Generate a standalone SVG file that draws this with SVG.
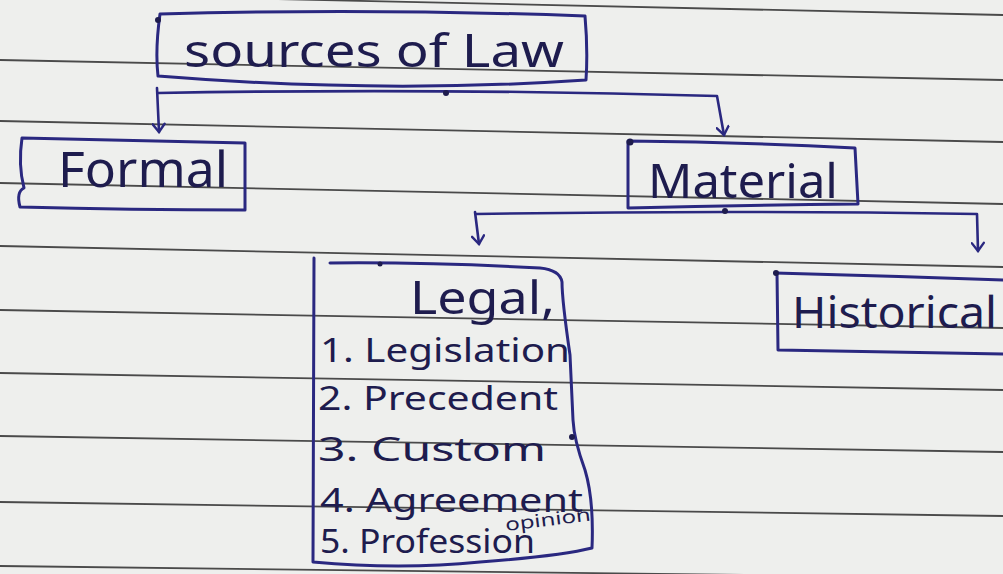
<svg xmlns="http://www.w3.org/2000/svg" width="1003" height="574" viewBox="0 0 1003 574">
<style>
.rule{stroke:#4a4a4a;stroke-width:1.8;fill:none}
.box{fill:none;stroke:#2a2880;stroke-width:3;stroke-linejoin:round;stroke-linecap:round}
.conn{fill:none;stroke:#2a2880;stroke-width:2.6;stroke-linecap:round;stroke-linejoin:round}
.ink{fill:#1e1c4e;font-family:"Noto Sans","DejaVu Sans",sans-serif}
.dot{fill:#1e1c4e}
</style>
<defs>
<marker id="arr" viewBox="-10 -7 12 14" refX="0" refY="0" markerUnits="userSpaceOnUse" markerWidth="12" markerHeight="14" orient="auto">
<path d="M-8,-6 L0,0 L-8,6" fill="none" stroke="#2a2880" stroke-width="2.4" stroke-linecap="round"/>
</marker>
</defs>
<rect width="1003" height="574" fill="#eeefed"/>
<g id="paper">
<line class="rule" x1="0" y1="-7" x2="1003" y2="15"/>
<line class="rule" x1="0" y1="60" x2="1003" y2="80"/>
<line class="rule" x1="0" y1="121" x2="1003" y2="142"/>
<line class="rule" x1="0" y1="183" x2="1003" y2="204"/>
<line class="rule" x1="0" y1="246" x2="1003" y2="267"/>
<line class="rule" x1="0" y1="310" x2="1003" y2="328"/>
<line class="rule" x1="0" y1="373" x2="1003" y2="390"/>
<line class="rule" x1="0" y1="436" x2="1003" y2="452"/>
<line class="rule" x1="0" y1="502" x2="1003" y2="516"/>
<line class="rule" x1="0" y1="566" x2="1003" y2="578"/>
</g>
<g id="connectors">
<path class="conn" d="M158,93 Q440,88 717,96 L724,135" marker-end="url(#arr)"/>
<path class="conn" d="M157,88 L159,132" marker-end="url(#arr)"/>
<path class="conn" d="M476,214 Q720,210 977,214 L978,251" marker-end="url(#arr)"/>
<path class="conn" d="M475,212 L479,244" marker-end="url(#arr)"/>
<circle class="dot" cx="446" cy="93" r="3"/>
<circle class="dot" cx="725" cy="211" r="3"/>
</g>
<g id="node-sources">
<path class="box" d="M160,14 Q370,8 585,16 Q588,50 586,80 Q380,94 158,76 Q155,50 160,14 Z"/>
<circle class="dot" cx="158" cy="20" r="3"/>
<text class="ink" x="184" y="67" font-size="46" textLength="380" lengthAdjust="spacingAndGlyphs">sources of Law</text>
</g>
<g id="node-formal">
<path class="box" d="M22,138 Q130,140 245,143 L245,210 Q130,210 20,207 Q16,192 24,188 Q18,165 22,138 Z"/>
<text class="ink" x="58" y="187" font-size="50" textLength="170" lengthAdjust="spacingAndGlyphs">Formal</text>
</g>
<g id="node-material">
<path class="box" d="M628,141 Q740,142 855,148 L858,204 Q740,205 628,208 L628,141 Z"/>
<circle class="dot" cx="630" cy="142" r="3.5"/>
<text class="ink" x="648" y="198" font-size="48" textLength="190" lengthAdjust="spacingAndGlyphs">Material</text>
</g>
<g id="node-legal">
<path class="box" d="M314,258 L313,562 Q400,570 480,562 Q560,556 592,548 Q594,500 585,470 Q574,440 573,420 L570,355 Q562,300 562,282 Q560,270 540,268 Q430,262 330,263"/>
<circle class="dot" cx="572" cy="437" r="3"/>
<circle class="dot" cx="380" cy="264" r="2.5"/>
<text class="ink" x="410" y="314" font-size="46" textLength="145" lengthAdjust="spacingAndGlyphs">Legal,</text>
<text class="ink" x="320" y="362" font-size="32" textLength="250" lengthAdjust="spacingAndGlyphs">1. Legislation</text>
<text class="ink" x="318" y="410" font-size="32" textLength="240" lengthAdjust="spacingAndGlyphs">2. Precedent</text>
<text class="ink" x="318" y="461" font-size="32" textLength="228" lengthAdjust="spacingAndGlyphs">3. Custom</text>
<text class="ink" x="320" y="512" font-size="32" textLength="263" lengthAdjust="spacingAndGlyphs">4. Agreement</text>
<text class="ink" x="320" y="553" font-size="32" textLength="215" lengthAdjust="spacingAndGlyphs">5. Profession</text>
<text class="ink" x="506" y="531" font-size="18" textLength="86" lengthAdjust="spacingAndGlyphs" transform="rotate(-7 506 531)">opinion</text>
</g>
<g id="node-historical">
<path class="box" d="M775,273 Q890,276 1003,280 M777,273 L778,350 Q890,352 1003,354"/>
<circle class="dot" cx="776" cy="273" r="3"/>
<text class="ink" x="792" y="328" font-size="44" textLength="205" lengthAdjust="spacingAndGlyphs">Historical</text>
</g>
</svg>
